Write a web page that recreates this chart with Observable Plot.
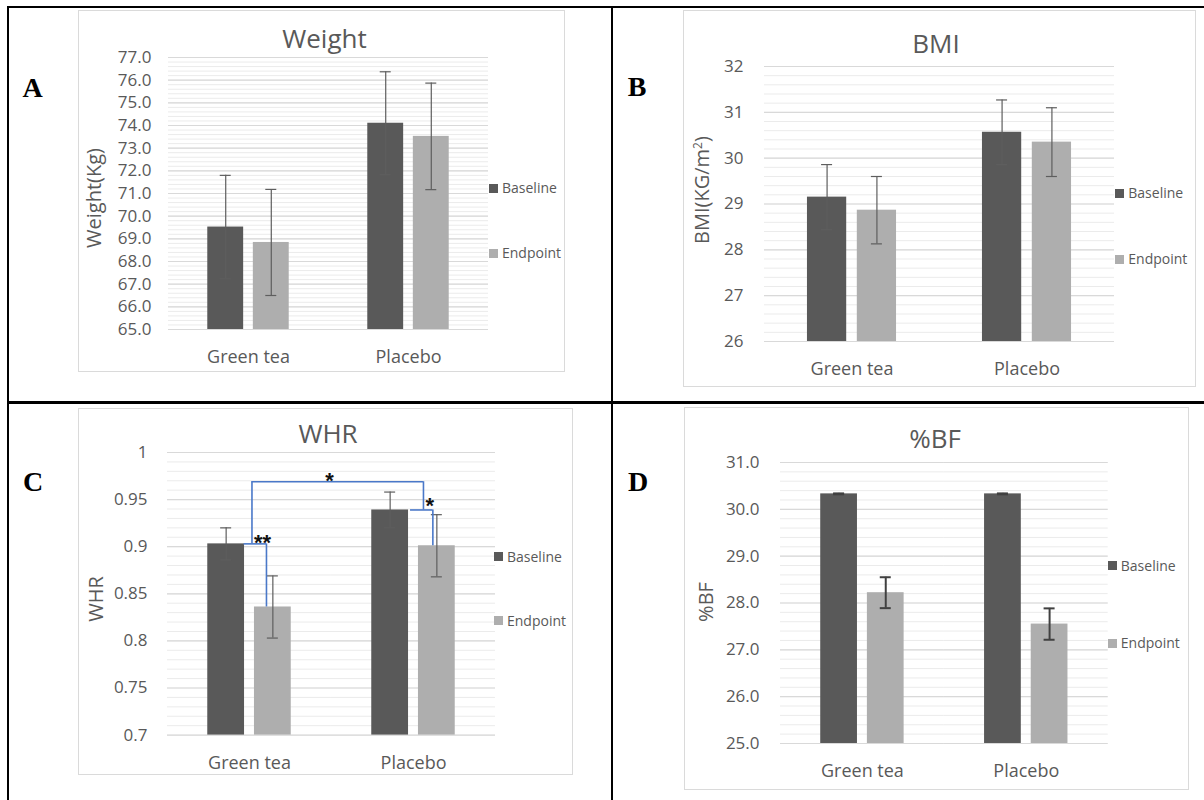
<!DOCTYPE html>
<html>
<head>
<meta charset="utf-8">
<script src="https://cdn.jsdelivr.net/npm/d3@7"></script>
<script src="https://cdn.jsdelivr.net/npm/@observablehq/plot@0.6"></script>
<style>
  body { margin: 0; background: #fff; }
  #page { position: relative; width: 1204px; height: 800px; overflow: hidden; background: #fff;
          font-family: "Open Sans", sans-serif; color: #595959; }
  .rule { position: absolute; background: #000; }
  .box { position: absolute; border: 1.5px solid #dadada; box-sizing: border-box; background: #fff; }
  .t { position: absolute; white-space: nowrap; line-height: 1; }
  .plot { position: absolute; }
  .sq { position: absolute; width: 9px; height: 9px; }
</style>
</head>
<body>
<div id="page"></div>
<script>
// ---------------- data ----------------
const categories = ["Green tea", "Placebo"];
const series = ["Baseline", "Endpoint"];

// A – Weight (Kg)
const weightBaseline   = [69.52, 74.10];
const weightBaselineSD = [2.28, 2.27];
const weightEndpoint   = [68.84, 73.52];
const weightEndpointSD = [2.34, 2.35];
const weightTicks = [65, 66, 67, 68, 69, 70, 71, 72, 73, 74, 75, 76, 77];

// B – BMI (KG/m2)
const bmiBaseline   = [29.15, 30.565];
const bmiBaselineSD = [0.71, 0.705];
const bmiEndpoint   = [28.865, 30.35];
const bmiEndpointSD = [0.735, 0.75];
const bmiTicks = [26, 27, 28, 29, 30, 31, 32];

// C – WHR
const whrBaseline   = [0.903, 0.939];
const whrBaselineSD = [0.017, 0.019];
const whrEndpoint   = [0.836, 0.901];
const whrEndpointSD = [0.033, 0.033];
const whrTicks = [0.7, 0.75, 0.8, 0.85, 0.9, 0.95, 1];
const whrBracketTop = 0.969;            // level of the between-group bracket
const whrStars = ["*", "**", "*"];      // between groups, green tea, placebo

// D – %BF
const bfBaseline   = [30.33, 30.33];
const bfBaselineSD = [0.01, 0.01];
const bfEndpoint   = [28.22, 27.55];
const bfEndpointSD = [0.33, 0.335];
const bfTicks = [25, 26, 27, 28, 29, 30, 31];

// ---------------- helpers ----------------
const DARK = "#595959", LIGHT = "#aeaeae";
const PI = 0.2126, PO = 0.862;   // Excel-like gap width / overlap
const page = document.getElementById("page");

function table(base, baseSD, end, endSD) {
  return categories.flatMap((c, i) => [
    {category: c, series: series[0], value: base[i], sd: baseSD[i]},
    {category: c, series: series[1], value: end[i], sd: endSD[i]}
  ]);
}

function div(cls, css) {
  const d = document.createElement("div");
  d.className = cls;
  Object.assign(d.style, css);
  page.appendChild(d);
  return d;
}

function txt(str, x, y, css = {}, anchor = "middle") {
  const d = div("t", Object.assign({left: x + "px", top: y + "px",
    transform: anchor === "middle" ? "translate(-50%,-50%)" : "translate(0,-50%)"}, css));
  d.textContent = str;
  return d;
}

function makePanel(p) {
  // box
  div("box", {left: p.box.l + "px", top: p.box.t + "px", width: (p.box.r - p.box.l) + "px", height: (p.box.b - p.box.t) + "px"});

  const mL = 70, mR = 10, mT = 10, mB = 50;
  const y0 = p.ticks[0], y1 = p.ticks[p.ticks.length - 1];
  const nMinor = Math.round((y1 - y0) / p.minor);
  const minor = d3.range(nMinor + 1).map(i => y0 + i * p.minor);
  const facetW = p.frame.w / categories.length;
  const step = facetW / (series.length - PI + 2 * PO);
  const bw = step * (1 - PI);
  const outer = step * PO;
  const capInset = (bw - 11) / 2;
  const errStyle = {stroke: p.errStroke, strokeWidth: p.errWidth};

  const marks = [
    Plot.ruleY(minor, {stroke: "#ebebeb", strokeWidth: 1}),
    Plot.ruleY(p.ticks, {stroke: "#d9d9d9", strokeWidth: 1.2}),
    Plot.barY(p.data, {fx: "category", x: "series", y1: y0, y2: "value", fill: "series"}),
    Plot.ruleX(p.data, {fx: "category", x: "series", y1: d => d.value - d.sd, y2: d => d.value + d.sd, ...errStyle}),
    Plot.tickY(p.data, {fx: "category", x: "series", y: d => d.value + d.sd, insetLeft: capInset, insetRight: capInset, ...errStyle}),
    Plot.tickY(p.data, {fx: "category", x: "series", y: d => d.value - d.sd, insetLeft: capInset, insetRight: capInset, ...errStyle}),
    Plot.axisY({ticks: p.ticks, tickFormat: p.fmt, tickSize: 0, tickPadding: p.tickPad, fontSize: 17, label: null}),
    Plot.axisFx({anchor: "bottom", tickSize: 0, tickPadding: 21, fontSize: 18, label: null}),
    ...(p.extra ? p.extra({bw, outer}) : [])
  ];

  const svg = Plot.plot({
    width: mL + p.frame.w + mR,
    height: mT + p.frame.h + mB,
    marginLeft: mL, marginRight: mR, marginTop: mT, marginBottom: mB,
    fx: {domain: categories, padding: 0, round: false},
    x: {domain: series, paddingInner: PI, paddingOuter: PO, round: false, axis: null},
    y: {domain: [y0, y1]},
    color: {domain: series, range: [DARK, LIGHT]},
    style: {fontFamily: "Open Sans, sans-serif", color: "#595959", background: "transparent", overflow: "visible"},
    marks
  });
  const holder = div("plot", {left: (p.frame.x - mL) + "px", top: (p.frame.y - mT) + "px"});
  holder.appendChild(svg);

  // title
  txt(p.title, p.titlePos[0], p.titlePos[1], {fontSize: "26px", color: "#595959"});
  // panel letter
  txt(p.letter, p.letterPos[0], p.letterPos[1], {fontFamily: "'Liberation Serif', 'Times New Roman', serif", fontWeight: "bold", fontSize: "28px", color: "#000"});
  // y label (rotated)
  const yl = txt("", p.ylabelPos[0], p.ylabelPos[1], {fontSize: "20px", color: "#595959", transform: "translate(-50%,-50%) rotate(-90deg)"});
  p.ylabel.forEach(part => {
    const s = document.createElement(part.sup ? "sup" : "span");
    s.textContent = part.text;
    if (part.sup) Object.assign(s.style, {fontSize: "12px", verticalAlign: "7px", lineHeight: "0"});
    yl.appendChild(s);
  });
  // legend
  series.forEach((s, i) => {
    div("sq", {left: p.legend.sq + "px", top: (p.legend.y[i] - 4.5) + "px", background: i === 0 ? DARK : LIGHT});
    txt(s, p.legend.tx, p.legend.y[i], {fontSize: "14px", color: "#595959"}, "start");
  });
}

// ---------------- table borders ----------------
div("rule", {left: "7px", top: "6px", width: "1197px", height: "2px"});
div("rule", {left: "7px", top: "6px", width: "2px", height: "794px"});
div("rule", {left: "611px", top: "6px", width: "2px", height: "794px"});
div("rule", {left: "7px", top: "401px", width: "1197px", height: "2.5px"});

// ---------------- panels ----------------
makePanel({
  letter: "A", title: "Weight", ylabel: [{text: "Weight(Kg)"}],
  data: table(weightBaseline, weightBaselineSD, weightEndpoint, weightEndpointSD),
  ticks: weightTicks, minor: 0.2, fmt: d3.format(".1f"),
  frame: {x: 168, y: 57, w: 320, h: 272}, tickPad: 17,
  box: {l: 77.7, t: 10, r: 565, b: 372},
  titlePos: [324.5, 37.5], letterPos: [32.5, 87.5], ylabelPos: [94, 197.5],
  legend: {sq: 489, tx: 502, y: [188, 253]},
  errStroke: "#5e5e5e", errWidth: 1.2
});

makePanel({
  letter: "B", title: "BMI", ylabel: [{text: "BMI(KG/m"}, {text: "2", sup: true}, {text: ")"}],
  data: table(bmiBaseline, bmiBaselineSD, bmiEndpoint, bmiEndpointSD),
  ticks: bmiTicks, minor: 0.2, fmt: d3.format("d"),
  frame: {x: 763.7, y: 66, w: 350, h: 275}, tickPad: 21,
  box: {l: 682.8, t: 10, r: 1196, b: 387},
  titlePos: [936, 42.5], letterPos: [637, 87], ylabelPos: [702, 190],
  legend: {sq: 1115.4, tx: 1128.3, y: [193.3, 259.3]},
  errStroke: "#5e5e5e", errWidth: 1.2
});

makePanel({
  letter: "C", title: "WHR", ylabel: [{text: "WHR"}],
  data: table(whrBaseline, whrBaselineSD, whrEndpoint, whrEndpointSD),
  ticks: whrTicks, minor: 0.01, fmt: d => String(d),
  frame: {x: 167, y: 451.7, w: 328, h: 282.6}, tickPad: 20,
  box: {l: 77.7, t: 408, r: 573, b: 775},
  titlePos: [328, 432.5], letterPos: [33, 481.7], ylabelPos: [95.5, 599],
  legend: {sq: 493.7, tx: 507, y: [556.7, 620.7]},
  errStroke: "#5e5e5e", errWidth: 1.2,
  extra: ({bw, outer}) => {
    const [gt, pl] = categories;
    const [b0, b1] = whrBaseline, [e0, e1] = whrEndpoint;
    const top = whrBracketTop;
    const st = {stroke: "#4a78c8", strokeWidth: 1.6};
    const F = {fx: "category", x: "series"};
    const star = {fontSize: 22, fontWeight: "bold", fill: "#111", fontFamily: "Liberation Sans, Arial, sans-serif", text: "label"};
    return [
      // between-group bracket: green tea baseline -> placebo baseline
      Plot.ruleX([{category: gt, series: "Endpoint", a: b0, b: top}], {...F, y1: "a", y2: "b", dx: -2.5 - bw / 2, ...st}),
      Plot.ruleY([{category: gt, s1: "Endpoint", s2: "Endpoint", y: top}], {fx: "category", x1: "s1", x2: "s2", y: "y", insetLeft: -2.5, insetRight: -outer, ...st}),
      Plot.ruleY([{category: pl, s1: "Baseline", s2: "Endpoint", y: top}], {fx: "category", x1: "s1", x2: "s2", y: "y", insetLeft: -outer, insetRight: bw - 5, ...st}),
      Plot.ruleX([{category: pl, series: "Endpoint", a: b1, b: top}], {...F, y1: "a", y2: "b", dx: 5 - bw / 2, ...st}),
      Plot.text([{category: gt, series: "Endpoint", y: top, label: whrStars[0]}], {...F, y: "y", dx: bw / 2 + outer - 2, dy: -1.2, ...star}),
      // green tea: baseline vs endpoint
      Plot.ruleY([{category: gt, s1: "Baseline", s2: "Endpoint", y: b0}], {fx: "category", x1: "s1", x2: "s2", y: "y", insetLeft: bw - 0.5, insetRight: bw - 12, ...st}),
      Plot.ruleX([{category: gt, series: "Endpoint", a: e0, b: b0}], {...F, y1: "a", y2: "b", dx: 12 - bw / 2, ...st}),
      Plot.text([{category: gt, series: "Endpoint", y: b0, label: whrStars[1]}], {...F, y: "y", dx: 8 - bw / 2, dy: -1.4, ...star}),
      // placebo: baseline vs endpoint
      Plot.ruleY([{category: pl, s1: "Baseline", s2: "Endpoint", y: b1}], {fx: "category", x1: "s1", x2: "s2", y: "y", insetLeft: bw + 2, insetRight: bw - 14.4, ...st}),
      Plot.ruleX([{category: pl, series: "Endpoint", a: e1, b: b1}], {...F, y1: "a", y2: "b", dx: 14.4 - bw / 2, ...st}),
      Plot.text([{category: pl, series: "Endpoint", y: b1, label: whrStars[2]}], {...F, y: "y", dx: 11.4 - bw / 2, dy: -3.7, ...star})
    ];
  }
});

makePanel({
  letter: "D", title: "%BF", ylabel: [{text: "%BF"}],
  data: table(bfBaseline, bfBaselineSD, bfEndpoint, bfEndpointSD),
  ticks: bfTicks, minor: 0.2, fmt: d3.format(".1f"),
  frame: {x: 780, y: 462.3, w: 327.7, h: 281}, tickPad: 21,
  box: {l: 684, t: 406.7, r: 1189.4, b: 790},
  titlePos: [935, 437.5], letterPos: [638, 481.7], ylabelPos: [705.8, 602],
  legend: {sq: 1107.7, tx: 1120.8, y: [565.7, 643.3]},
  errStroke: "#404040", errWidth: 2
});
</script>
</body>
</html>
